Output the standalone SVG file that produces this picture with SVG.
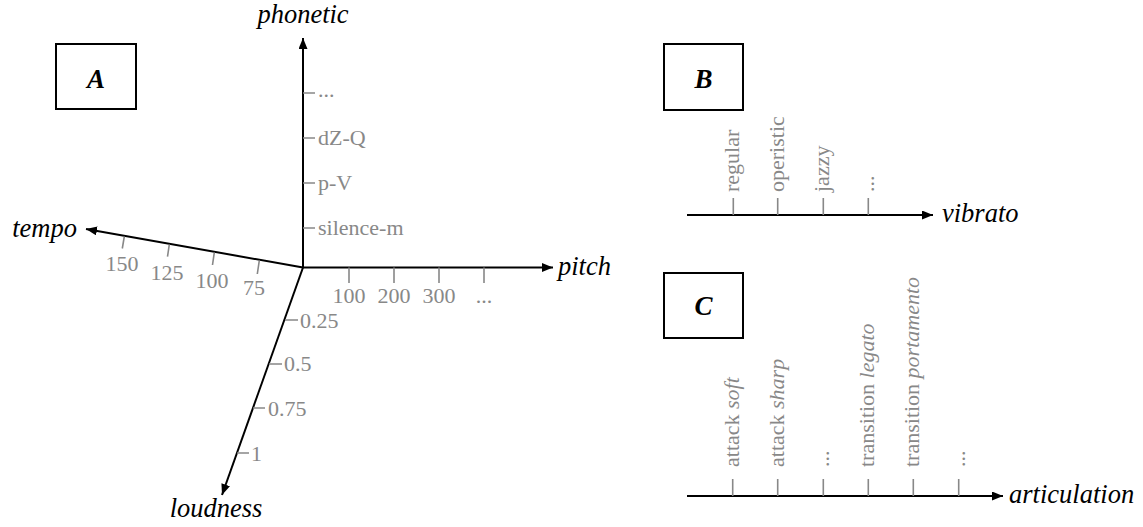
<svg xmlns="http://www.w3.org/2000/svg" width="1143" height="527" viewBox="0 0 1143 527" font-family="'Liberation Serif', 'Times New Roman', 'DejaVu Serif', serif">
<style>
text{font-family:'Liberation Serif','Times New Roman','DejaVu Serif',serif}
.ax{stroke:#000;stroke-width:2;fill:none}
.tk{stroke:#888;stroke-width:1.6;fill:none}
.lb{font-size:22px;fill:#888}
.al{font-size:26.5px;font-style:italic;fill:#000}
.bx{fill:#fff;stroke:#000;stroke-width:2}
.bl{font-size:27px;font-style:italic;font-weight:bold;fill:#000}
.it{font-style:italic}
</style>
<defs>
<marker id="ah" markerUnits="userSpaceOnUse" markerWidth="12" markerHeight="10" refX="11" refY="4.5" orient="auto">
<path d="M0,0 L11,4.5 L0,9 z" fill="#000"/>
</marker>
</defs>
<g id="box-A"><rect class="bx" x="56" y="44" width="80" height="65"/><text class="bl" x="96" y="88" text-anchor="middle">A</text></g>
<g id="box-B"><rect class="bx" x="664" y="44" width="79" height="66"/><text class="bl" x="703.5" y="88" text-anchor="middle">B</text></g>
<g id="box-C"><rect class="bx" x="664" y="273" width="79" height="65"/><text class="bl" x="703.5" y="315" text-anchor="middle">C</text></g>
<g id="connectors">
<line class="ax" x1="303" y1="267.5" x2="303" y2="38" marker-end="url(#ah)"/>
<line class="ax" x1="303" y1="267.5" x2="553" y2="267.5" marker-end="url(#ah)"/>
<line class="ax" x1="303" y1="267.5" x2="86" y2="229" marker-end="url(#ah)"/>
<line class="ax" x1="303" y1="267.5" x2="222" y2="495" marker-end="url(#ah)"/>
<line class="ax" x1="687" y1="215" x2="933" y2="215" marker-end="url(#ah)"/>
<line class="ax" x1="687" y1="496" x2="1003" y2="496" marker-end="url(#ah)"/>
</g>
<g id="phonetic-axis">
<path class="tk" d="M303,93H315M303,138H315M303,183H315M303,228H315"/>
<text class="lb" x="318" y="97">...</text>
<text class="lb" x="318" y="145">dZ-Q</text>
<text class="lb" x="318" y="190">p-V</text>
<text class="lb" x="318" y="235">silence-m</text>
<text class="al" x="303" y="23" text-anchor="middle">phonetic</text>
</g>
<g id="pitch-axis">
<path class="tk" d="M349,267.5V283M394,267.5V283M439,267.5V283M484,267.5V283"/>
<text class="lb" x="349" y="303" text-anchor="middle">100</text>
<text class="lb" x="394" y="303" text-anchor="middle">200</text>
<text class="lb" x="439" y="303" text-anchor="middle">300</text>
<text class="lb" x="484" y="303" text-anchor="middle">...</text>
<text class="al" x="558" y="275">pitch</text>
</g>
<g id="tempo-axis">
<path class="tk" d="M124.3,236.5L122.3,248.5M169.3,244.5L167.5,256.7M214.3,252.5L212.5,265M259.3,260.5L257.3,274"/>
<text class="lb" x="122" y="271" text-anchor="middle">150</text>
<text class="lb" x="167" y="280" text-anchor="middle">125</text>
<text class="lb" x="212" y="288" text-anchor="middle">100</text>
<text class="lb" x="254" y="295" text-anchor="middle">75</text>
<text class="al" x="77" y="237" text-anchor="end">tempo</text>
</g>
<g id="loudness-axis">
<path class="tk" d="M285,320H298M269,364H282M253,408H265M237,453H249"/>
<text class="lb" x="300" y="328">0.25</text>
<text class="lb" x="284" y="371">0.5</text>
<text class="lb" x="268" y="416">0.75</text>
<text class="lb" x="251" y="461">1</text>
<text class="al" x="216" y="517" text-anchor="middle">loudness</text>
</g>
<g id="vibrato-axis">
<path class="tk" d="M733.3,215V198M777.7,215V198M823.3,215V198M868.3,215V198"/>
<text class="lb" transform="translate(739,192) rotate(-90)">regular</text>
<text class="lb" transform="translate(783.5,192) rotate(-90)">operistic</text>
<text class="lb" transform="translate(829,192) rotate(-90)">jazzy</text>
<text class="lb" transform="translate(874,192) rotate(-90)">...</text>
<text class="al" x="942" y="222">vibrato</text>
</g>
<g id="articulation-axis">
<path class="tk" d="M732.7,496V479M777.7,496V479M823.3,496V479M868.3,496V479M913.3,496V479M958.7,496V479"/>
<text class="lb" transform="translate(738.5,467) rotate(-90)">attack <tspan class="it">soft</tspan></text>
<text class="lb" transform="translate(783.5,467) rotate(-90)">attack <tspan class="it">sharp</tspan></text>
<text class="lb" transform="translate(829,467) rotate(-90)">...</text>
<text class="lb" transform="translate(874,467) rotate(-90)">transition <tspan class="it">legato</tspan></text>
<text class="lb" transform="translate(919,467) rotate(-90)">transition <tspan class="it">portamento</tspan></text>
<text class="lb" transform="translate(964.5,467) rotate(-90)">...</text>
<text class="al" x="1009" y="503">articulation</text>
</g>
</svg>
